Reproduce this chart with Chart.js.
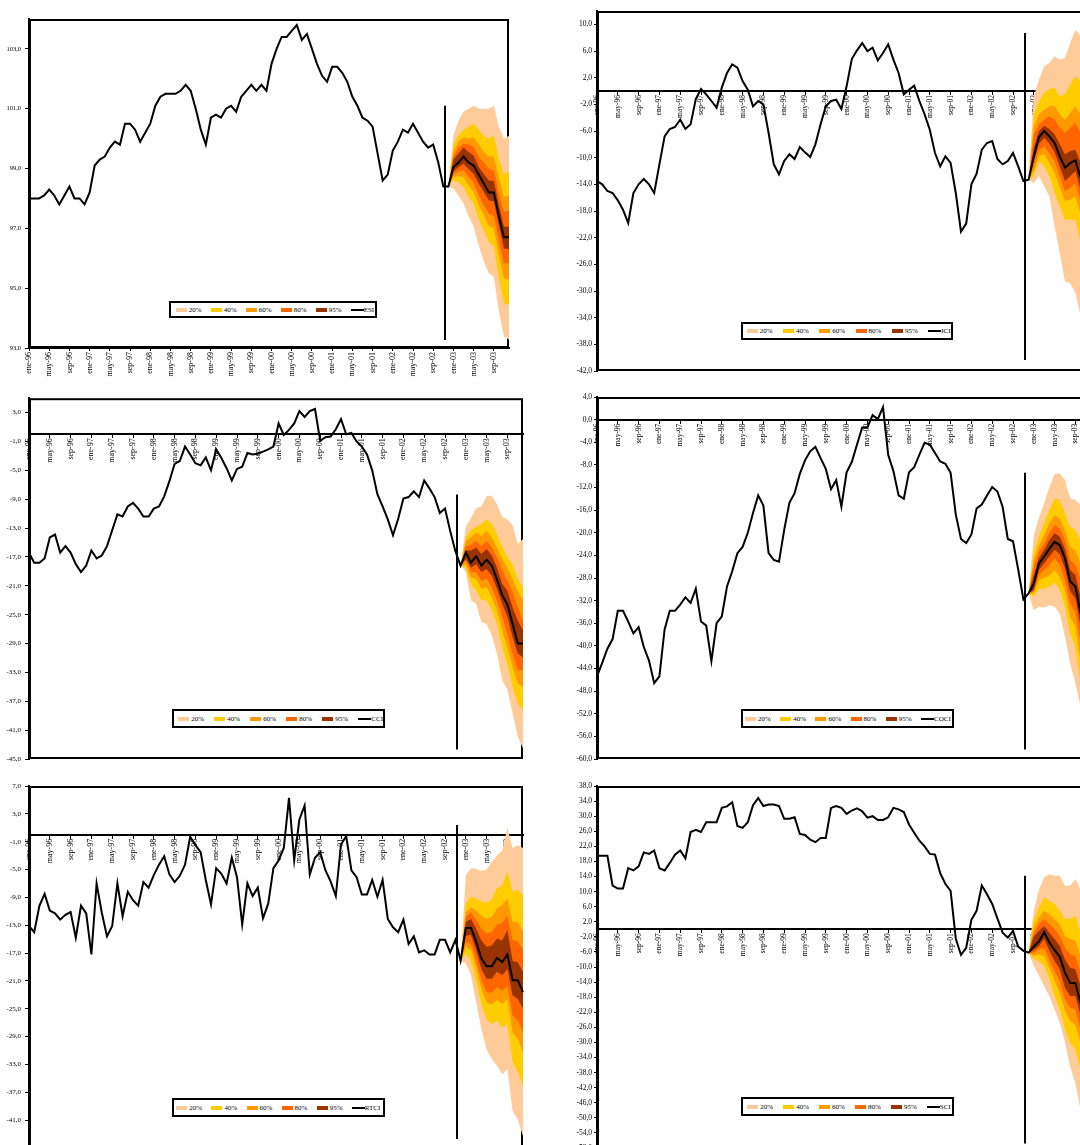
<!DOCTYPE html>
<html>
<head>
<meta charset="utf-8">
<script src="https://cdn.jsdelivr.net/npm/chart.js@4.4.1/dist/chart.umd.min.js"></script>
<style>
  html, body { margin: 0; padding: 0; background: #fff; }
  body { position: relative; width: 1080px; height: 1145px; overflow: hidden; font-family: 'Liberation Serif', 'Times New Roman', serif; }
  .panel { position: absolute; }
  .panel canvas { display: block; }
  .legend { position: absolute; box-sizing: border-box; border: 2px solid #000; background: #fff; color: #000; font-size: 7px; }
  .legend .it { position: absolute; top: 0; bottom: 0; display: flex; align-items: center; white-space: nowrap; }
  .legend .sw { display: inline-block; width: 11px; height: 4px; margin-right: 2px; }
  .legend .ln { display: inline-block; width: 13px; height: 2px; background: #000; }
</style>
</head>
<body>
<script>
// Monthly categories, ene-96 .. dic-03
const monthNames = ['ene','feb','mar','abr','may','jun','jul','ago','sep','oct','nov','dic'];
const yearLabels = ['96','97','98','99','00','01','02','03'];
const months = [];
yearLabels.forEach(y => monthNames.forEach(m => months.push(m + '-' + y)));

// Fan bands: outer to inner
const bandLabels = ['20%', '40%', '60%', '80%', '95%'];
const bandColors = ['#FFCC99', '#FFCC00', '#FF9900', '#FF6600', '#993300'];

// ---------- ESI ----------
const esiHist = [98.0, 98.0, 98.0, 98.1, 98.3, 98.1, 97.8, 98.1, 98.4, 98.0,
  98.0, 97.8, 98.2, 99.1, 99.3, 99.4, 99.7, 99.9, 99.8, 100.5,
  100.5, 100.3, 99.9, 100.2, 100.5, 101.1, 101.4, 101.5, 101.5, 101.5,
  101.6, 101.8, 101.6, 101.0, 100.3, 99.8, 100.7, 100.8, 100.7, 101.0,
  101.1, 100.9, 101.4, 101.6, 101.8, 101.6, 101.8, 101.6, 102.5, 103.0,
  103.4, 103.4, 103.6, 103.8, 103.3, 103.5, 103.0, 102.5, 102.1, 101.9,
  102.4, 102.4, 102.2, 101.9, 101.4, 101.1, 100.7, 100.6, 100.4, 99.5,
  98.6, 98.8, 99.6, 99.9, 100.3, 100.2, 100.5, 100.2, 99.9, 99.7,
  99.8, 99.2, 98.4, 98.4];
const esiForecast = [99.05, 99.2, 99.4, 99.2, 99.1, 98.8, 98.5, 98.2, 98.2, 97.4, 96.7, 96.7];
const esiHigh = [
  [100.1, 100.6, 100.9, 101.0, 101.1, 101.0, 101.0, 101.0, 101.1, 100.4, 100.0, 100.1],
  [99.8, 100.1, 100.3, 100.4, 100.5, 100.3, 100.1, 100.0, 100.1, 99.3, 98.8, 98.9],
  [99.55, 99.9, 100.05, 100.0, 100.05, 99.8, 99.55, 99.4, 99.4, 98.7, 98.05, 98.1],
  [99.4, 99.7, 99.83, 99.8, 99.72, 99.4, 99.2, 99.0, 98.94, 98.17, 97.55, 97.6],
  [99.3, 99.5, 99.7, 99.55, 99.44, 99.05, 98.83, 98.6, 98.58, 97.78, 97.05, 97.05]];
const esiLow = [
  [98.33, 98.1, 97.83, 97.4, 97.05, 96.44, 95.9, 95.5, 95.39, 94.22, 93.39, 93.28],
  [98.6, 98.53, 98.4, 98.05, 97.83, 97.33, 96.94, 96.55, 96.39, 95.33, 94.5, 94.44],
  [98.72, 98.75, 98.72, 98.44, 98.22, 97.78, 97.44, 97.09, 97.0, 96.1, 95.33, 95.28],
  [98.8, 98.9, 98.94, 98.72, 98.53, 98.1, 97.78, 97.5, 97.42, 96.55, 95.83, 95.83],
  [98.9, 99.05, 99.17, 98.98, 98.83, 98.5, 98.22, 97.94, 97.9, 97.1, 96.33, 96.3]];
const esiTicks = [93, 95, 97, 99, 101, 103];

// ---------- ICI ----------
const iciHist = [-13.5, -14.0, -15.0, -15.3, -16.4, -17.8, -19.8, -15.3, -14.0, -13.2,
  -14.0, -15.3, -11.0, -6.8, -5.7, -5.4, -4.3, -5.7, -5.0, -1.2,
  0.3, -0.5, -1.5, -2.5, 0.5, 2.7, 4.0, 3.5, 1.5, 0.2,
  -2.3, -1.5, -2.0, -6.3, -11.0, -12.5, -10.5, -9.5, -10.2, -8.4,
  -9.2, -9.9, -8.0, -5.0, -2.3, -1.5, -1.3, -2.7, 0.7, 4.8,
  6.1, 7.2, 6.0, 6.5, 4.6, 5.7, 7.0, 4.7, 2.7, -0.5,
  0.2, 0.8, -1.5, -3.5, -5.8, -9.3, -11.3, -9.8, -10.8, -15.3,
  -21.1, -19.9, -14.0, -12.4, -8.8, -7.8, -7.5, -10.2, -11.0, -10.5,
  -9.3, -11.3, -13.5, -13.3];
const iciForecast = [-9.8, -6.9, -6.0, -6.8, -7.8, -9.8, -11.5, -10.8, -10.4, -13.0, -13.5, -14.0];
const iciHigh = [
  [-0.8, 1.7, 3.7, 4.2, 5.2, 4.7, 5.0, 7.2, 9.2, 8.2, 7.0, 6.0],
  [-3.5, -1.5, -0.3, 0.3, 0.5, -0.8, -0.5, 1.0, 2.2, 1.5, 0.5, -0.5],
  [-5.3, -3.5, -2.8, -2.3, -2.2, -3.5, -4.3, -3.3, -2.3, -3.5, -4.5, -5.5],
  [-6.5, -5.0, -4.3, -3.8, -4.3, -5.5, -6.3, -5.5, -4.8, -6.3, -7.3, -8.0],
  [-8.5, -6.0, -5.2, -5.7, -6.5, -8.0, -9.5, -9.0, -8.8, -10.8, -11.5, -12.0]];
const iciLow = [
  [-13.8, -12.8, -14.3, -15.8, -20.3, -24.3, -28.6, -28.8, -30.3, -33.8, -35.0, -36.0],
  [-12.8, -10.5, -11.3, -12.8, -15.3, -17.3, -19.3, -19.3, -19.3, -22.8, -24.0, -25.0],
  [-12.0, -9.8, -9.5, -10.8, -12.3, -14.5, -16.5, -16.3, -15.8, -18.5, -19.5, -20.5],
  [-11.3, -8.9, -8.3, -9.3, -10.5, -12.8, -15.0, -14.5, -13.8, -16.5, -17.5, -18.5],
  [-10.5, -7.9, -7.0, -7.9, -9.2, -11.3, -13.5, -12.8, -12.0, -14.8, -15.5, -16.0]];
const iciTicks = [-42, -38, -34, -30, -26, -22, -18, -14, -10, -6, -2, 2, 6, 10];

// ---------- CCI ----------
const cciHist = [-16.4, -17.8, -17.8, -17.2, -14.3, -13.9, -16.4, -15.5, -16.4, -18.0,
  -19.1, -18.2, -16.1, -17.2, -16.8, -15.5, -13.3, -11.1, -11.4, -10.0,
  -9.5, -10.3, -11.4, -11.4, -10.3, -10.0, -8.6, -6.5, -4.1, -3.7,
  -1.7, -2.8, -4.0, -4.3, -3.2, -5.0, -2.1, -3.3, -4.7, -6.4,
  -4.8, -4.5, -2.6, -2.8, -2.7, -2.4, -2.1, -1.7, 1.5, -0.1,
  0.6, 1.5, 3.2, 2.4, 3.2, 3.5, -0.9, -0.4, -0.3, 0.7,
  2.1, 0.0, 0.2, -1.0, -1.7, -2.8, -5.0, -8.3, -10.0, -11.8,
  -14.0, -11.7, -8.9, -8.7, -7.9, -8.7, -6.4, -7.5, -8.7, -10.9,
  -10.3, -13.4, -16.2, -18.2];
const cciForecast = [-16.4, -17.8, -16.9, -18.2, -17.4, -18.2, -20.1, -22.3, -23.6, -26.3, -29.0, -29.0];
const cciHigh = [
  [-12.8, -11.6, -10.2, -10.0, -8.6, -8.5, -9.7, -11.4, -11.8, -12.6, -15.2, -14.5],
  [-14.3, -13.3, -12.8, -12.4, -11.8, -12.4, -13.9, -15.6, -17.0, -18.0, -20.1, -21.2],
  [-14.8, -14.3, -13.6, -14.1, -13.4, -14.3, -15.7, -17.3, -18.5, -20.1, -21.7, -23.0],
  [-15.5, -15.3, -14.8, -15.5, -14.8, -15.7, -17.1, -18.9, -20.3, -21.9, -24.0, -25.8],
  [-16.1, -16.1, -15.7, -16.6, -15.9, -16.8, -18.5, -20.7, -21.7, -24.0, -25.8, -27.2]];
const cciLow = [
  [-19.1, -23.0, -23.5, -26.0, -26.3, -27.9, -30.4, -34.1, -35.4, -38.7, -41.9, -43.5],
  [-18.5, -20.8, -21.7, -23.0, -23.0, -24.4, -26.3, -29.5, -31.8, -35.0, -37.3, -38.2],
  [-18.0, -19.8, -20.1, -21.4, -21.2, -22.6, -24.4, -27.2, -29.5, -32.2, -34.5, -35.0],
  [-17.5, -19.1, -19.1, -20.3, -20.0, -21.2, -23.0, -25.3, -27.6, -30.4, -32.7, -32.7],
  [-17.3, -18.5, -18.0, -19.1, -18.7, -19.6, -21.4, -23.5, -25.3, -28.1, -30.4, -30.9]];
const cciTicks = [-45, -41, -37, -33, -29, -25, -21, -17, -13, -9, -5, -1, 3];

// ---------- COCI ----------
const cociHist = [-45.4, -43.0, -40.5, -38.8, -33.8, -33.8, -35.7, -37.8, -36.7, -40.2,
  -42.6, -46.6, -45.4, -37.1, -33.8, -33.8, -32.7, -31.4, -32.4, -29.9,
  -35.7, -36.4, -42.7, -36.0, -34.8, -29.5, -26.8, -23.6, -22.5, -20.0,
  -16.5, -13.4, -15.2, -23.6, -24.8, -25.1, -19.5, -14.7, -13.0, -9.6,
  -7.2, -5.6, -4.8, -6.8, -8.7, -12.3, -10.7, -15.4, -9.3, -7.5,
  -4.4, -1.4, -1.4, 0.8, 0.1, 2.2, -6.2, -9.1, -13.4, -14.0,
  -9.3, -8.4, -6.2, -4.1, -4.4, -5.9, -7.4, -7.8, -9.4, -16.8,
  -21.1, -21.8, -20.3, -15.7, -15.0, -13.4, -11.9, -12.7, -15.4, -21.1,
  -21.5, -26.5, -31.8, -30.7];
const cociForecast = [-29.0, -25.4, -24.2, -22.8, -21.6, -22.2, -24.5, -28.6, -29.5, -34.2, -37.0, -40.0];
const cociHigh = [
  [-20.5, -17.3, -14.8, -11.9, -9.6, -9.5, -10.7, -13.9, -14.2, -15.1, -17.0, -19.0],
  [-23.5, -20.7, -18.3, -16.0, -13.9, -14.2, -16.6, -18.9, -19.5, -21.3, -23.0, -25.0],
  [-24.8, -22.3, -20.4, -18.3, -16.9, -17.5, -19.5, -22.5, -23.1, -25.4, -27.5, -30.0],
  [-26.0, -23.3, -21.9, -20.0, -18.6, -19.2, -21.3, -24.8, -25.7, -28.4, -31.0, -34.0],
  [-27.5, -24.4, -23.0, -21.3, -20.1, -20.7, -22.9, -26.6, -27.5, -31.3, -34.0, -37.0]];
const cociLow = [
  [-33.7, -33.1, -33.2, -32.8, -33.1, -34.3, -38.4, -43.1, -46.6, -50.7, -54.0, -57.0],
  [-31.3, -29.8, -30.0, -29.5, -28.9, -30.1, -33.1, -37.8, -40.1, -46.6, -50.0, -53.0],
  [-30.7, -28.4, -28.0, -27.5, -26.6, -27.8, -30.4, -34.8, -36.6, -42.5, -46.0, -49.0],
  [-30.4, -27.4, -26.6, -25.7, -24.5, -25.7, -28.4, -32.5, -34.0, -39.5, -43.0, -46.0],
  [-30.1, -26.5, -25.4, -24.2, -23.0, -23.8, -26.3, -30.4, -31.6, -36.6, -40.0, -43.0]];
const cociTicks = [-60, -56, -52, -48, -44, -40, -36, -32, -28, -24, -20, -16, -12, -8, -4, 0, 4];

// ---------- RTCI ----------
const rtciHist = [-13.1, -14.0, -10.2, -8.5, -10.9, -11.3, -12.2, -11.5, -11.1, -14.8,
  -10.2, -11.3, -17.2, -7.0, -11.2, -14.6, -13.1, -7.0, -11.7, -8.2,
  -9.4, -10.2, -6.8, -7.6, -5.8, -4.3, -3.1, -5.7, -6.8, -5.9,
  -4.3, -0.3, -1.5, -2.5, -6.5, -10.0, -4.8, -5.6, -7.0, -3.3,
  -6.1, -12.9, -7.0, -8.8, -7.6, -12.0, -9.9, -4.8, -3.7, -1.9,
  5.3, -3.7, 2.2, 4.2, -5.7, -3.3, -2.5, -5.1, -6.7, -8.8,
  -1.4, -0.2, -5.1, -6.1, -8.6, -8.6, -6.5, -8.9, -6.5, -12.1,
  -13.3, -14.0, -12.2, -15.7, -14.6, -16.9, -16.6, -17.2, -17.2, -15.1,
  -15.1, -16.9, -15.1, -18.1];
const rtciForecast = [-13.4, -13.4, -15.4, -17.8, -18.9, -18.9, -17.7, -18.3, -17.2, -20.9, -20.9, -22.6];
const rtciHigh = [
  [-5.8, -4.8, -4.9, -5.2, -5.0, -3.9, -3.0, -2.3, 1.0, -1.9, -1.5, -1.9],
  [-9.9, -8.9, -9.2, -9.6, -9.7, -9.3, -7.7, -7.3, -5.3, -8.2, -7.9, -8.7],
  [-11.1, -10.4, -10.9, -11.6, -12.1, -11.8, -10.6, -10.1, -9.2, -12.5, -12.5, -13.9],
  [-11.8, -11.1, -12.3, -13.5, -14.2, -14.0, -12.9, -12.7, -11.6, -15.1, -15.3, -16.4],
  [-12.5, -12.1, -13.5, -15.2, -16.1, -15.9, -14.9, -15.2, -13.7, -18.1, -18.3, -19.7]];
const rtciLow = [
  [-18.5, -20.2, -24.1, -27.9, -30.8, -32.2, -33.2, -34.4, -33.7, -39.7, -40.9, -43.3],
  [-17.1, -18.1, -21.0, -24.3, -26.5, -27.2, -26.7, -27.7, -27.2, -32.7, -34.1, -36.1],
  [-16.1, -16.6, -19.3, -22.1, -24.1, -24.4, -23.7, -24.3, -23.6, -28.4, -29.3, -31.3],
  [-15.4, -15.7, -18.1, -20.9, -22.6, -22.7, -21.9, -22.4, -21.7, -26.0, -26.7, -28.4],
  [-14.5, -14.4, -16.6, -19.3, -20.7, -20.7, -19.7, -20.2, -19.3, -23.1, -23.6, -25.0]];
const rtciTicks = [-45, -41, -37, -33, -29, -25, -21, -17, -13, -9, -5, -1, 3, 7];

// ---------- SCI ----------
const sciHist = [19.5, 19.5, 19.5, 11.6, 10.8, 10.8, 16.2, 15.6, 16.7, 20.4,
  20.0, 20.9, 16.2, 15.6, 17.6, 19.8, 20.9, 18.8, 25.8, 26.4,
  25.8, 28.4, 28.4, 28.4, 32.2, 32.6, 33.7, 27.4, 26.9, 28.4,
  32.9, 34.8, 32.7, 33.1, 33.1, 32.7, 29.3, 29.3, 29.7, 25.3,
  25.0, 23.8, 23.1, 24.2, 24.2, 32.2, 32.7, 32.2, 30.6, 31.5,
  32.1, 31.3, 29.6, 30.0, 29.0, 29.0, 29.7, 32.2, 31.8, 31.1,
  27.8, 25.6, 23.5, 22.0, 20.0, 19.8, 14.9, 12.0, 10.2, -2.5,
  -6.8, -4.9, 2.5, 4.9, 11.6, 9.3, 6.7, 2.9, -0.9, -2.2,
  -0.4, -4.6, -5.7, -6.2];
const sciForecast = [-4.6, -3.2, -0.8, -3.5, -5.5, -7.3, -11.5, -14.2, -14.3, -19.5, -22.0, -24.0];
const sciHigh = [
  [5.0, 10.5, 13.8, 14.6, 14.2, 14.2, 11.5, 11.6, 13.3, 10.5, 9.0, 8.0],
  [2.6, 5.8, 8.5, 7.6, 6.7, 4.9, 2.7, 2.7, 3.6, -0.9, -3.0, -5.0],
  [0.5, 3.1, 4.9, 4.0, 2.7, 1.4, -1.8, -2.6, -3.1, -7.1, -9.0, -11.0],
  [-0.9, 1.4, 2.7, 1.4, 0.0, -1.8, -4.9, -6.6, -7.1, -11.5, -14.0, -16.0],
  [-1.9, -0.4, 0.9, -0.9, -2.6, -4.4, -8.0, -10.2, -10.6, -15.1, -18.0, -20.0]];
const sciLow = [
  [-9.7, -12.4, -15.1, -17.7, -21.3, -24.8, -30.1, -36.4, -40.8, -47.9, -52.0, -56.0],
  [-7.8, -8.4, -9.7, -13.3, -17.7, -21.3, -26.6, -30.1, -31.9, -37.2, -41.0, -45.0],
  [-7.0, -6.6, -7.1, -10.2, -13.7, -16.8, -21.7, -24.4, -25.3, -30.1, -34.0, -37.0],
  [-6.3, -5.3, -4.9, -8.0, -11.1, -13.7, -18.6, -20.8, -21.3, -26.6, -30.0, -33.0],
  [-5.5, -4.4, -2.6, -5.7, -8.4, -10.6, -15.5, -17.7, -17.7, -23.0, -26.0, -28.0]];
const sciTicks = [-58, -54, -50, -46, -42, -38, -34, -30, -26, -22, -18, -14, -10, -6, -2, 2, 6, 10, 14, 18, 22, 26, 30, 34, 38];

// Panel table: data references plus where each panel sits on the page
const panels = [
  { name: 'ESI', hist: esiHist, fc: esiForecast, high: esiHigh, low: esiLow, ticks: esiTicks, range: [93, 104],
    box: { left: 0, top: 0, width: 540, height: 390 }, plot: { left: 29, top: 19, right: 509, bottom: 348 },
    xAtZero: false, yFont: 6.5, xFont: 8, yTick: 4, yPad: 4, marker: { x: 82.3, from: 93.27, to: 101.1 },
    legend: { left: 169, top: 301, width: 208, height: 17, pad: 4.7, pitch: 35 } },
  { name: 'ICI', hist: iciHist, fc: iciForecast, high: iciHigh, low: iciLow, ticks: iciTicks, range: [-42, 12],
    box: { left: 560, top: 0, width: 540, height: 390 }, plot: { left: 597, top: 11, right: 1091, bottom: 371 },
    xAtZero: true, yFont: 7.5, xFont: 7.5, yTick: 3, yPad: 2, marker: { x: 82.3, from: -40.35, to: 8.7 },
    legend: { left: 741, top: 322, width: 212, height: 18, pad: 3.7, pitch: 36.3 } },
  { name: 'CCI', hist: cciHist, fc: cciForecast, high: cciHigh, low: cciLow, ticks: cciTicks, range: [-45, 5],
    box: { left: 0, top: 390, width: 540, height: 385 }, plot: { left: 29, top: 397, right: 523, bottom: 759 },
    xAtZero: true, yFont: 7, xFont: 8, yTick: 4, yPad: 4, marker: { x: 82.3, from: -43.7, to: -8.35 },
    legend: { left: 172, top: 709, width: 213, height: 19, pad: 4.3, pitch: 36 } },
  { name: 'COCI', hist: cociHist, fc: cociForecast, high: cociHigh, low: cociLow, ticks: cociTicks, range: [-60, 4],
    box: { left: 560, top: 390, width: 540, height: 385 }, plot: { left: 597, top: 397, right: 1091, bottom: 759 },
    xAtZero: true, yFont: 7.5, xFont: 7.5, yTick: 3, yPad: 2, marker: { x: 82.3, from: -58.3, to: -9.4 },
    legend: { left: 741, top: 709, width: 213, height: 19, pad: 2, pitch: 35.2 } },
  { name: 'RTCI', hist: rtciHist, fc: rtciForecast, high: rtciHigh, low: rtciLow, ticks: rtciTicks, range: [-45, 7],
    box: { left: 0, top: 775, width: 540, height: 385 }, plot: { left: 29, top: 786, right: 523, bottom: 1148 },
    xAtZero: true, yFont: 7, xFont: 8, yTick: 4, yPad: 4, marker: { x: 82.3, from: -43.7, to: 1.4 },
    legend: { left: 172, top: 1098, width: 213, height: 19, pad: 2.3, pitch: 35.1 } },
  { name: 'SCI', hist: sciHist, fc: sciForecast, high: sciHigh, low: sciLow, ticks: sciTicks, range: [-58, 38],
    box: { left: 560, top: 775, width: 540, height: 385 }, plot: { left: 597, top: 786, right: 1091, bottom: 1148 },
    xAtZero: true, yFont: 7.5, xFont: 7.5, yTick: 3, yPad: 2, marker: { x: 82.3, from: -56.8, to: 14.2 },
    legend: { left: 741, top: 1097, width: 213, height: 19, pad: 4.3, pitch: 35.9 } }
];

Chart.defaults.font.family = "'Liberation Serif', 'Times New Roman', serif";
Chart.defaults.color = '#000';

const fmtComma = v => Number(v).toFixed(1).replace('.', ',');

// Plot-area frame, drawn under the data so the fans cover its right side
const framePlugin = {
  id: 'plotFrame',
  beforeDatasetsDraw(chart) {
    const { ctx, chartArea: a } = chart;
    ctx.save();
    ctx.strokeStyle = '#000';
    ctx.lineWidth = 2;
    ctx.strokeRect(a.left + 1, a.top + 1, a.right - a.left - 2, a.bottom - a.top - 2);
    ctx.restore();
  }
};

// Vertical divider between observed data and the forecast fan
function dividerPlugin(m) {
  return {
    id: 'forecastDivider',
    afterDraw(chart) {
      const { ctx, scales } = chart;
      const x = Math.round(scales.x.getPixelForValue(m.x));
      ctx.save();
      ctx.strokeStyle = '#000';
      ctx.lineWidth = 2;
      ctx.beginPath();
      ctx.moveTo(x, scales.y.getPixelForValue(m.to));
      ctx.lineTo(x, scales.y.getPixelForValue(m.from));
      ctx.stroke();
      ctx.restore();
    }
  };
}

function buildDatasets(p) {
  const n = p.hist.length;
  const lead = new Array(n - 1).fill(null);
  const origin = p.hist[n - 1];
  const sets = [{
    label: p.name,
    data: p.hist.concat(p.fc),
    borderColor: '#000',
    borderWidth: 2,
    pointRadius: 0,
    pointHoverRadius: 0,
    tension: 0,
    fill: false
  }];
  // inner band first so that it is drawn last (on top)
  for (let k = bandLabels.length - 1; k >= 0; k--) {
    const lowIndex = sets.length;
    sets.push({
      label: bandLabels[k] + ' inf',
      data: lead.concat([origin], p.low[k]),
      borderWidth: 0,
      borderColor: 'rgba(0,0,0,0)',
      pointRadius: 0,
      pointHoverRadius: 0,
      tension: 0,
      fill: false
    });
    sets.push({
      label: bandLabels[k],
      data: lead.concat([origin], p.high[k]),
      borderWidth: 0,
      borderColor: 'rgba(0,0,0,0)',
      backgroundColor: bandColors[k],
      pointRadius: 0,
      pointHoverRadius: 0,
      tension: 0,
      fill: lowIndex
    });
  }
  return sets;
}

function buildLegend(p) {
  const L = p.legend;
  const box = document.createElement('div');
  box.className = 'legend';
  Object.assign(box.style, { left: L.left + 'px', top: L.top + 'px', width: L.width + 'px', height: L.height + 'px' });
  bandLabels.forEach((lab, k) => {
    const it = document.createElement('div');
    it.className = 'it';
    it.style.left = (L.pad + k * L.pitch) + 'px';
    const sw = document.createElement('span');
    sw.className = 'sw';
    sw.style.background = bandColors[k];
    const tx = document.createElement('span');
    tx.textContent = lab;
    it.appendChild(sw); it.appendChild(tx);
    box.appendChild(it);
  });
  const it = document.createElement('div');
  it.className = 'it';
  it.style.left = (L.pad + 5 * L.pitch) + 'px';
  const ln = document.createElement('span');
  ln.className = 'ln';
  const tx = document.createElement('span');
  tx.textContent = p.name;
  it.appendChild(ln); it.appendChild(tx);
  box.appendChild(it);
  document.body.appendChild(box);
}

function buildPanel(p) {
  const wrap = document.createElement('div');
  wrap.className = 'panel';
  Object.assign(wrap.style, { left: p.box.left + 'px', top: p.box.top + 'px', width: p.box.width + 'px', height: p.box.height + 'px' });
  const cv = document.createElement('canvas');
  cv.width = p.box.width;
  cv.height = p.box.height;
  cv.style.width = p.box.width + 'px';
  cv.style.height = p.box.height + 'px';
  wrap.appendChild(cv);
  document.body.appendChild(wrap);

  const yWidth = p.plot.left - p.box.left;
  const xHeight = p.xAtZero ? 0 : 30;
  const padding = {
    left: 0,
    top: p.plot.top - p.box.top,
    right: p.box.left + p.box.width - p.plot.right,
    bottom: p.box.top + p.box.height - p.plot.bottom - xHeight
  };

  new Chart(cv, {
    type: 'line',
    data: { labels: months, datasets: buildDatasets(p) },
    options: {
      responsive: false,
      animation: false,
      devicePixelRatio: 1,
      events: [],
      layout: { padding, autoPadding: false },
      plugins: { legend: { display: false }, tooltip: { enabled: false } },
      scales: {
        x: {
          type: 'category',
          position: p.xAtZero ? { y: 0 } : 'bottom',
          offset: false,
          z: 1,
          grid: { display: true, drawOnChartArea: false, drawTicks: true, tickLength: 3, color: '#000', lineWidth: 1 },
          border: { display: true, color: '#000', width: 2 },
          ticks: { autoSkip: false, minRotation: 90, maxRotation: 90, padding: 1, color: '#000', font: { size: p.xFont } },
          afterBuildTicks: s => { s.ticks = s.ticks.filter(t => t.value % 4 === 0); },
          afterFit: s => { if (!p.xAtZero) s.height = xHeight; }
        },
        y: {
          type: 'linear',
          min: p.range[0],
          max: p.range[1],
          afterBuildTicks: s => { s.ticks = p.ticks.map(v => ({ value: v })); },
          grid: { display: true, drawOnChartArea: false, drawTicks: true, tickLength: p.yTick, color: '#000', lineWidth: 1 },
          border: { display: true, color: '#000', width: 2 },
          ticks: { padding: p.yPad, color: '#000', font: { size: p.yFont }, callback: v => fmtComma(v) },
          afterFit: s => { s.width = yWidth; }
        }
      }
    },
    plugins: [framePlugin, dividerPlugin(p.marker)]
  });
  buildLegend(p);
}

panels.forEach(buildPanel);
</script>
</body>
</html>
